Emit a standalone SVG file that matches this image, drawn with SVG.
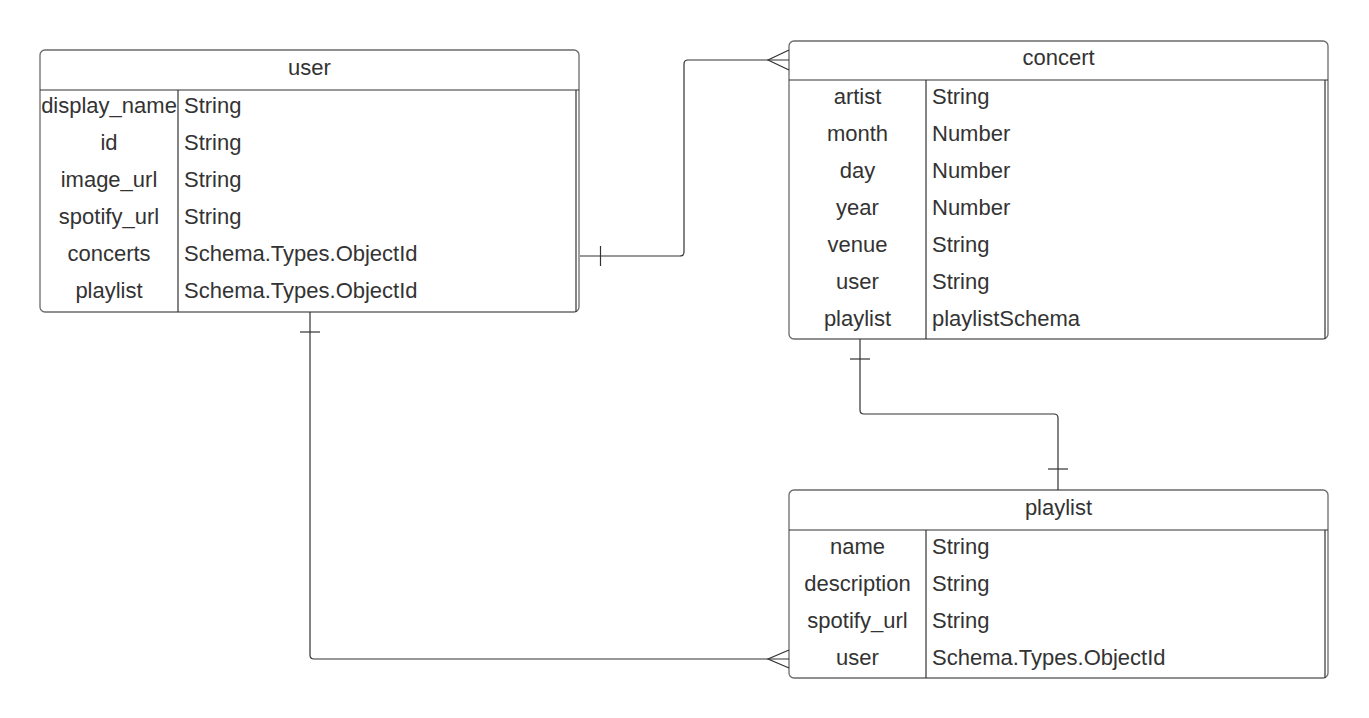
<svg xmlns="http://www.w3.org/2000/svg" width="1369" height="718" viewBox="0 0 1369 718">
<style>
.box{fill:#fff;stroke:#6b6b6b;stroke-width:1.3}
.ln{stroke:#333;stroke-width:1.2;fill:none}
.t{font-family:"Liberation Sans",Arial,sans-serif;font-size:22px;fill:#333}
.c{text-anchor:middle}
.cn{stroke:#333;stroke-width:1.2;fill:none}
</style>
<rect width="1369" height="718" fill="#fff"/>
<g id="user">
<rect class="box" x="40" y="50" width="539" height="262" rx="5"/>
<line class="ln" x1="40" y1="90" x2="579" y2="90"/>
<line class="ln" x1="178" y1="90" x2="178" y2="312"/>
<line class="ln" x1="576" y1="90" x2="576" y2="312"/>
<text class="t c" x="309.5" y="75">user</text>
<text class="t c" x="109" y="112.5">display_name</text><text class="t" x="184" y="112.5">String</text>
<text class="t c" x="109" y="149.5">id</text><text class="t" x="184" y="149.5">String</text>
<text class="t c" x="109" y="186.5">image_url</text><text class="t" x="184" y="186.5">String</text>
<text class="t c" x="109" y="223.5">spotify_url</text><text class="t" x="184" y="223.5">String</text>
<text class="t c" x="109" y="260.5">concerts</text><text class="t" x="184" y="260.5">Schema.Types.ObjectId</text>
<text class="t c" x="109" y="297.5">playlist</text><text class="t" x="184" y="297.5">Schema.Types.ObjectId</text>
</g>
<g id="concert">
<rect class="box" x="789" y="41" width="539" height="298" rx="5"/>
<line class="ln" x1="789" y1="80" x2="1328" y2="80"/>
<line class="ln" x1="926" y1="80" x2="926" y2="339"/>
<line class="ln" x1="1325" y1="80" x2="1325" y2="339"/>
<text class="t c" x="1058.5" y="64.5">concert</text>
<text class="t c" x="857.5" y="103.5">artist</text><text class="t" x="932" y="103.5">String</text>
<text class="t c" x="857.5" y="140.5">month</text><text class="t" x="932" y="140.5">Number</text>
<text class="t c" x="857.5" y="177.5">day</text><text class="t" x="932" y="177.5">Number</text>
<text class="t c" x="857.5" y="214.5">year</text><text class="t" x="932" y="214.5">Number</text>
<text class="t c" x="857.5" y="251.5">venue</text><text class="t" x="932" y="251.5">String</text>
<text class="t c" x="857.5" y="288.5">user</text><text class="t" x="932" y="288.5">String</text>
<text class="t c" x="857.5" y="325.5">playlist</text><text class="t" x="932" y="325.5">playlistSchema</text>
</g>
<g id="playlist">
<rect class="box" x="789" y="490" width="539" height="188" rx="5"/>
<line class="ln" x1="789" y1="530" x2="1328" y2="530"/>
<line class="ln" x1="926" y1="530" x2="926" y2="678"/>
<line class="ln" x1="1325" y1="530" x2="1325" y2="678"/>
<text class="t c" x="1058.5" y="514.5">playlist</text>
<text class="t c" x="857.5" y="553.5">name</text><text class="t" x="932" y="553.5">String</text>
<text class="t c" x="857.5" y="590.5">description</text><text class="t" x="932" y="590.5">String</text>
<text class="t c" x="857.5" y="627.5">spotify_url</text><text class="t" x="932" y="627.5">String</text>
<text class="t c" x="857.5" y="664.5">user</text><text class="t" x="932" y="664.5">Schema.Types.ObjectId</text>
</g>
<g id="connectors">
<path class="cn" d="M580 256 H680 Q684 256 684 252 V64 Q684 60 688 60 H789"/>
<line class="cn" x1="600.5" y1="246" x2="600.5" y2="266"/>
<path class="cn" d="M789 50 L768 60 L789 70"/>
<path class="cn" d="M310 312 V655 Q310 659 314 659 H789"/>
<line class="cn" x1="300" y1="332" x2="320" y2="332"/>
<path class="cn" d="M789 650 L768 659 L789 668"/>
<path class="cn" d="M860 339 V410 Q860 414 864 414 H1054 Q1058 414 1058 418 V490"/>
<line class="cn" x1="850" y1="359" x2="870" y2="359"/>
<line class="cn" x1="1048" y1="469" x2="1068" y2="469"/>
</g>
</svg>
